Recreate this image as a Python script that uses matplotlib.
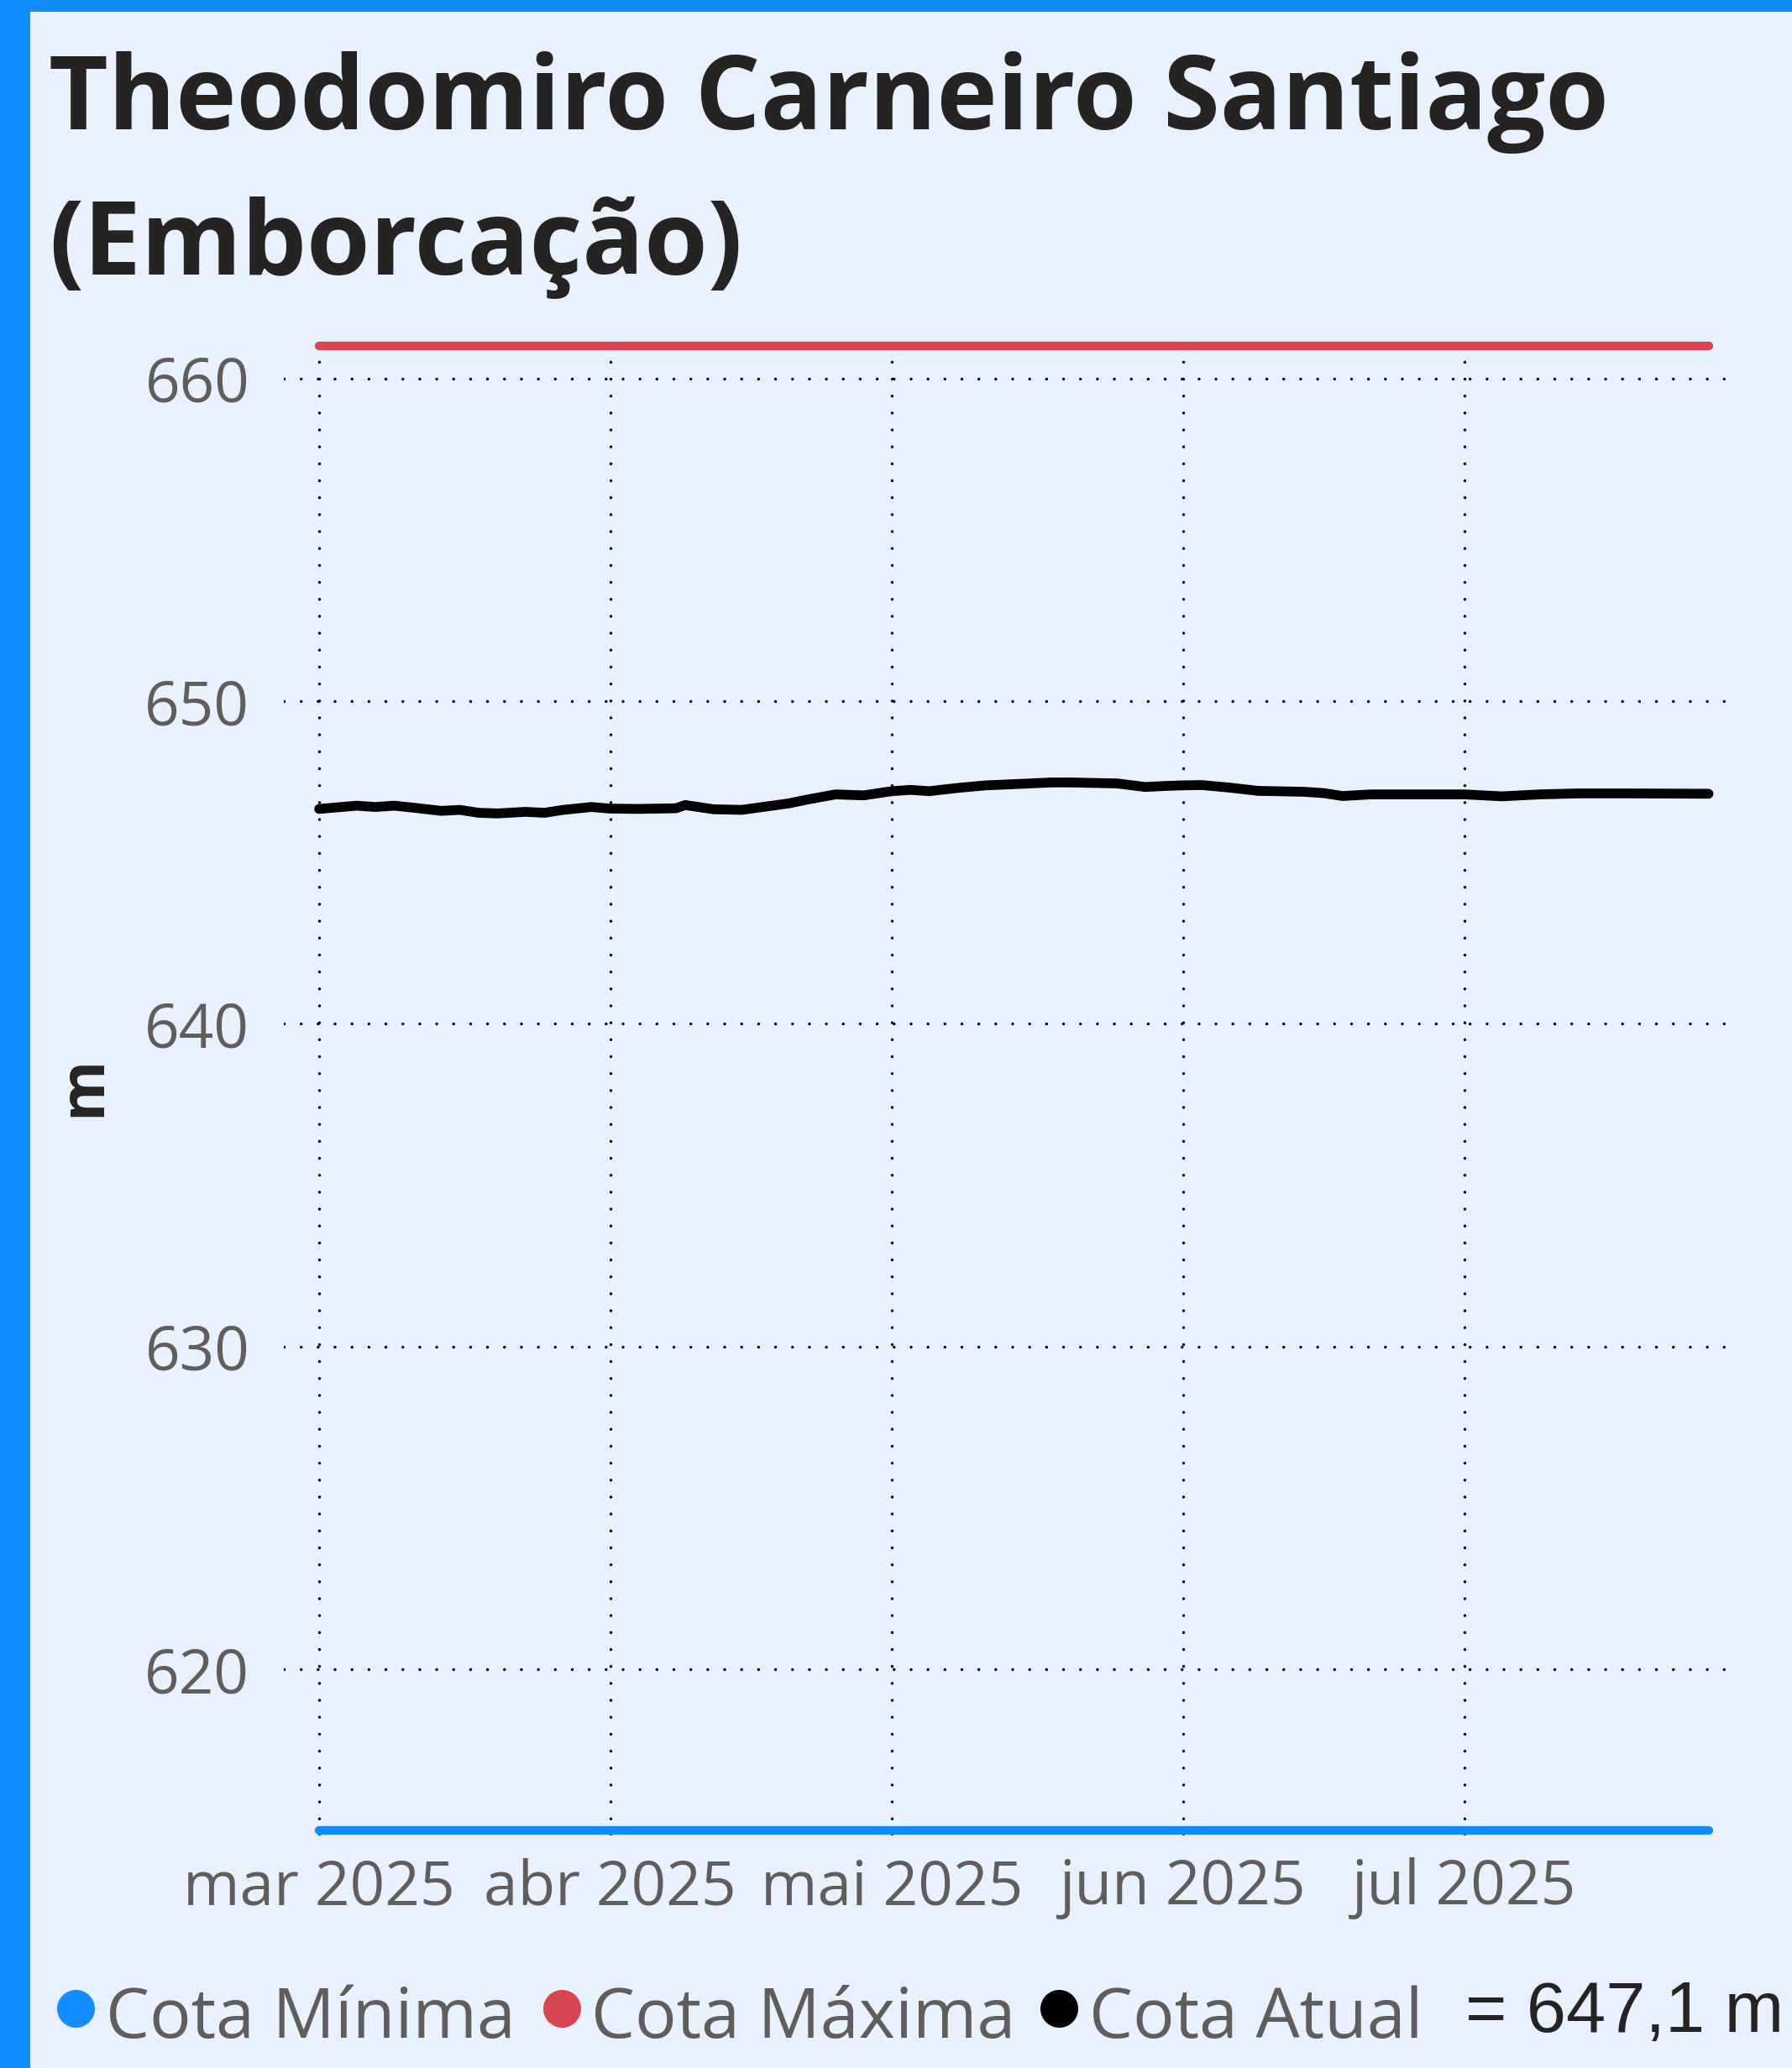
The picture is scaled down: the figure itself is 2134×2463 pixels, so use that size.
"""Cota do reservatório de Emborcação (Theodomiro Carneiro Santiago), mar-jul 2025."""

import matplotlib
matplotlib.use('Agg')
import matplotlib.patches as mpatches
import matplotlib.pyplot as plt
import pandas as pd

TITLE_LINES = ['Theodomiro Carneiro Santiago', '(Emborcação)']
Y_LABEL = 'm'

# Cota atual (m)
DATES = pd.to_datetime([
    '2025-03-01', '2025-03-05', '2025-03-07', '2025-03-09', '2025-03-11',
    '2025-03-14', '2025-03-16', '2025-03-18', '2025-03-20', '2025-03-23',
    '2025-03-25', '2025-03-27', '2025-03-30', '2025-04-01', '2025-04-04',
    '2025-04-08', '2025-04-09', '2025-04-12', '2025-04-15', '2025-04-16',
    '2025-04-20', '2025-04-22', '2025-04-25', '2025-04-28', '2025-05-01',
    '2025-05-03', '2025-05-05', '2025-05-08', '2025-05-11', '2025-05-15',
    '2025-05-18', '2025-05-20', '2025-05-25', '2025-05-28', '2025-05-30',
    '2025-06-01', '2025-06-03', '2025-06-06', '2025-06-09', '2025-06-14',
    '2025-06-16', '2025-06-18', '2025-06-21', '2025-06-26', '2025-07-01',
    '2025-07-05', '2025-07-09', '2025-07-13', '2025-07-19', '2025-07-27',
])
COTA_ATUAL = [
    646.66, 646.76, 646.72, 646.76, 646.70,
    646.60, 646.63, 646.54, 646.52, 646.57,
    646.54, 646.63, 646.72, 646.67, 646.66,
    646.68, 646.78, 646.65, 646.63, 646.67,
    646.83, 646.95, 647.11, 647.08, 647.21,
    647.25, 647.21, 647.31, 647.39, 647.44,
    647.48, 647.48, 647.45, 647.34, 647.37,
    647.39, 647.40, 647.32, 647.22, 647.19,
    647.15, 647.06, 647.11, 647.11, 647.11,
    647.05, 647.11, 647.14, 647.14, 647.13,
]
COTA_MINIMA = 615.0
COTA_MAXIMA = 661.0

Y_TICKS = [620, 630, 640, 650, 660]
X_TICKS = pd.to_datetime(['2025-03-01', '2025-04-01', '2025-05-01', '2025-06-01', '2025-07-01'])
X_TICK_LABELS = ['mar 2025', 'abr 2025', 'mai 2025', 'jun 2025', 'jul 2025']

LEGEND_LABELS = ['Cota Mínima', 'Cota Máxima', 'Cota Atual']
LEGEND_VALUE = '= 647,1 m'

BG = '#E7F2FE'
PBI_BLUE = '#118DFF'
PBI_RED = '#D64550'
TXT_DARK = '#252423'
TXT_GRAY = '#605E5C'

W, H = 2134, 2463
FONT = 'Open Sans'

plt.rcParams.update({
    'font.family': [FONT, 'DejaVu Sans'],
})

fig = plt.figure(figsize=(W / 100, H / 100), dpi=100, facecolor=BG)

# overlay in pixel coordinates (y down) for frame, title and legend
ov = fig.add_axes([0, 0, 1, 1], zorder=0)
ov.set_xlim(0, W)
ov.set_ylim(H, 0)
ov.axis('off')
ov.add_patch(mpatches.Rectangle((0, 0), W, 14, color=PBI_BLUE, lw=0))
ov.add_patch(mpatches.Rectangle((0, 0), 36, H, color=PBI_BLUE, lw=0))

ov.text(58, 154, TITLE_LINES[0], fontsize=88, fontweight='bold', color=TXT_DARK,
        va='baseline', ha='left')
ov.text(58, 327, TITLE_LINES[1], fontsize=88, fontweight='bold', color=TXT_DARK,
        va='baseline', ha='left')
ov.text(100, 1294, Y_LABEL, fontsize=53, fontweight='bold', color=TXT_DARK,
        rotation=90, va='center', ha='center')

# legend
dot_x = [89.5, 669, 1261]
txt_x = [126, 704, 1297]
for cx, tx, lab, col in zip(dot_x, txt_x, LEGEND_LABELS, [PBI_BLUE, PBI_RED, 'black']):
    ov.scatter([cx], [2392], s=1050, color=col, lw=0)
    ov.text(tx, 2427, lab, fontsize=59.5, color=TXT_GRAY, va='baseline', ha='left')
ov.text(1745, 2420, LEGEND_VALUE, fontsize=61, color=TXT_DARK, va='baseline', ha='left',
        family=['Liberation Sans', 'DejaVu Sans'])

# main chart
ax = fig.add_axes([337.6 / W, 1 - 2186 / H, (2060 - 337.6) / W, (2186 - 405) / H], zorder=1)
ax.set_facecolor('none')

x0 = pd.Timestamp('2025-03-01')
px_day = 11.18
ax.set_xlim(x0 - pd.Timedelta(days=42.4 / px_day), x0 + pd.Timedelta(days=1680 / px_day))
ax.set_ylim(614.85, 661.19)

dot = (0, (0.01, 5.8))
ax.set_yticks(Y_TICKS)
ax.set_xticks(X_TICKS)
ax.set_xticklabels(X_TICK_LABELS)
ax.grid(True, color='black', linestyle=dot, linewidth=2.5)
ax.set_axisbelow(True)
for gl in ax.get_xgridlines() + ax.get_ygridlines():
    gl.set_dash_capstyle('round')

span = [DATES[0], DATES[-1]]
ax.plot(span, [COTA_MAXIMA] * 2, color=PBI_RED, lw=7.4, solid_capstyle='round', clip_on=False)
ax.plot(span, [COTA_MINIMA] * 2, color=PBI_BLUE, lw=7.4, solid_capstyle='round', clip_on=False)
ax.plot(DATES, COTA_ATUAL, color='black', lw=8.4, solid_capstyle='round',
        solid_joinstyle='round', clip_on=False)

for s in ax.spines.values():
    s.set_visible(False)
ax.tick_params(axis='both', length=0, labelsize=52.5, labelcolor=TXT_GRAY)
ax.tick_params(axis='y', pad=29)
ax.tick_params(axis='x', pad=19)

fig.savefig('out.png', dpi=100, facecolor=BG)
